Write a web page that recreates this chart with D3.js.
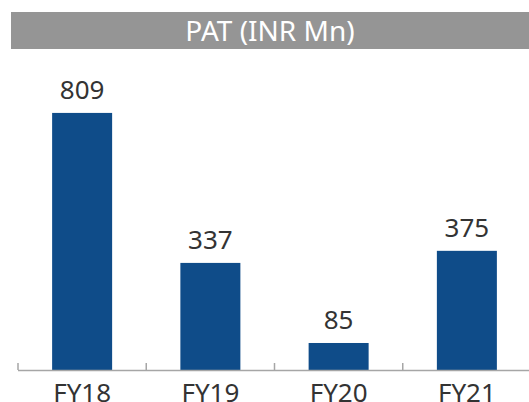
<!DOCTYPE html>
<html lang="en">
<meta charset="utf-8">
<style>
body { margin: 0; background: #fff; }
text { font-family: "Noto Sans", sans-serif; }
</style>
<body>
<script src="https://d3js.org/d3.v7.min.js"></script>
<script>
// chart data
var years = ["FY18", "FY19", "FY20", "FY21"];
var pat = [809, 337, 85, 375];
var title = "PAT (INR Mn)";

var w = 529, h = 402;
var base = 370;

var svg = d3.select("body").append("svg")
  .attr("width", w)
  .attr("height", h);

// header bar
svg.append("rect")
  .attr("x", 11).attr("y", 12)
  .attr("width", w - 11).attr("height", 37)
  .attr("fill", "#959595");
svg.append("text")
  .attr("x", 270).attr("y", 41)
  .attr("text-anchor", "middle")
  .attr("fill", "#fff")
  .style("font-size", "28px")
  .text(title);

// scales
var xScale = d3.scaleBand()
  .domain(years)
  .range([18, 531]);

var yScale = d3.scaleLinear()
  .domain([0, 900])
  .range([base, base - 286]);

var barW = 60;

// bars
svg.selectAll("rect.bar")
  .data(pat)
  .enter()
  .append("rect")
  .attr("class", "bar")
  .attr("x", function(d, i) { return xScale(years[i]) + xScale.bandwidth() / 2 - barW / 2; })
  .attr("y", function(d) { return yScale(d); })
  .attr("width", barW)
  .attr("height", function(d) { return base - yScale(d); })
  .attr("fill", "#0F4C89");

// value labels
svg.selectAll("text.val")
  .data(pat)
  .enter()
  .append("text")
  .attr("class", "val")
  .attr("x", function(d, i) { return xScale(years[i]) + xScale.bandwidth() / 2; })
  .attr("y", function(d) { return yScale(d) - 14; })
  .attr("text-anchor", "middle")
  .attr("fill", "#333")
  .style("font-size", "26px")
  .text(function(d) { return d; });

// axis line and ticks
svg.append("line")
  .attr("x1", 18).attr("x2", w)
  .attr("y1", base + 0.5).attr("y2", base + 0.5)
  .attr("stroke", "#a6a6a6")
  .attr("stroke-width", 1.5);

svg.selectAll("line.tick")
  .data(years)
  .enter()
  .append("line")
  .attr("class", "tick")
  .attr("x1", function(d) { return xScale(d); })
  .attr("x2", function(d) { return xScale(d); })
  .attr("y1", base - 7).attr("y2", base)
  .attr("stroke", "#a6a6a6")
  .attr("stroke-width", 1.5);

// category labels
svg.selectAll("text.cat")
  .data(years)
  .enter()
  .append("text")
  .attr("class", "cat")
  .attr("x", function(d) { return xScale(d) + xScale.bandwidth() / 2; })
  .attr("y", 402)
  .attr("text-anchor", "middle")
  .attr("fill", "#333")
  .style("font-size", "26px")
  .text(function(d) { return d; });
</script>
</body>
</html>
